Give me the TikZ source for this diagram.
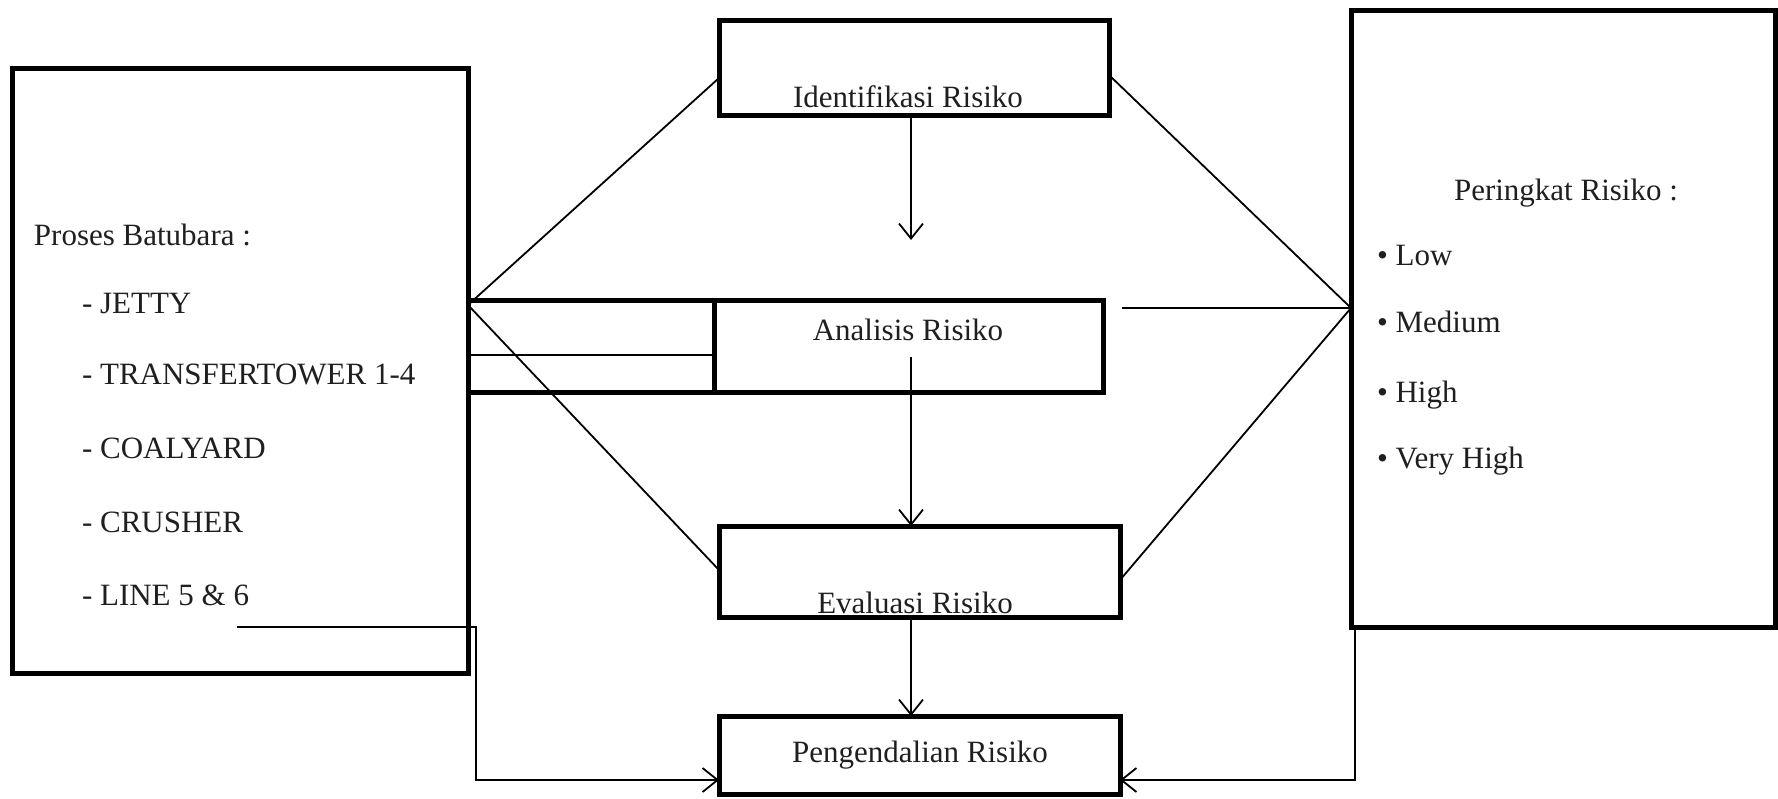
\documentclass[tikz,border=0pt]{standalone}
\usepackage{fontspec}
\setmainfont{Liberation Serif}
\usetikzlibrary{arrows.meta}
\begin{document}
\begin{tikzpicture}[x=1pt,y=-1pt,
  box/.style={draw, line width=5pt, inner sep=0pt, outer sep=0pt},
  conn/.style={line width=1.8pt},
  arr/.style={conn, -{Straight Barb[length=15pt,width=24pt,line width=1.8pt]}},
  lbl/.style={inner sep=0pt, outer sep=0pt, font=\fontsize{31}{36}\selectfont, text=black!88},
]
\useasboundingbox (0,0) rectangle (1778,798);

% boxes
\node[box, minimum width=456pt, minimum height=605pt] (src) at (240,370.5) {};
\node[box, minimum width=246pt, minimum height=92pt] (band) at (591,346) {};
\node[box, minimum width=389pt, minimum height=92pt] (ana) at (908.5,346) {};
\node[box, minimum width=390pt, minimum height=95pt] (idf) at (914,67.5) {};
\node[box, minimum width=401pt, minimum height=91pt] (eva) at (919.5,571.5) {};
\node[box, minimum width=401pt, minimum height=78pt] (peng) at (919.5,755) {};
\node[box, minimum width=424pt, minimum height=617pt] (rank) at (1563,318.5) {};

% named points
\coordinate (cl) at (src.east |- 0,305);
\coordinate (cr) at (rank.west |- 0,308);
\coordinate (anaR) at (1122,308);
\coordinate (idfEnd) at (911,240);
\coordinate (anaStart) at (911,357);
\coordinate (lstart) at (237,627);
\coordinate (lcorner) at (476,627);

% connectors
\draw[conn] (cl) -- (idf.west |- 0,78);
\draw[conn] (cl) -- (eva.west |- 0,570);
\draw[conn] (idf.east |- 0,75) -- (cr);
\draw[conn] (anaR) -- (cr);
\draw[conn] (eva.east |- 0,580) -- (cr);
\draw[conn] (band.west |- 0,355) -- (band.east |- 0,355);

\draw[arr] (911,0 |- idf.south) -- (idfEnd);
\draw[arr] (anaStart) -- (911,0 |- eva.north);
\draw[arr] (911,0 |- eva.south) -- (911,0 |- peng.north);
\draw[arr] (lstart) -- (lcorner) -- (476,780) -- (peng.west |- 0,780);
\draw[arr] (1355,0 |- rank.south) -- (1355,780) -- (peng.east |- 0,780);

% texts
\node[lbl, anchor=base] (tidf) at (908,107) {Identifikasi Risiko};
\node[lbl, anchor=base] (tana) at (908,340) {Analisis Risiko};
\node[lbl, anchor=base] (teva) at (915,613) {Evaluasi Risiko};
\node[lbl, anchor=base] (tpeng) at (920,762) {Pengendalian Risiko};

\node[lbl, anchor=base west] (tsrc) at (34,245) {Proses Batubara :};
\node[lbl, anchor=base west] (s1) at (82,313) {- JETTY};
\node[lbl, anchor=base west] (s2) at (82,384) {- TRANSFERTOWER 1-4};
\node[lbl, anchor=base west] (s3) at (82,458) {- COALYARD};
\node[lbl, anchor=base west] (s4) at (82,532) {- CRUSHER};
\node[lbl, anchor=base west] (s5) at (82,605) {- LINE 5 \& 6};

\node[lbl, anchor=base west] (trank) at (1454,200) {Peringkat Risiko :};
\node[lbl, anchor=base west] (r1) at (1377,265) {• Low};
\node[lbl, anchor=base west] (r2) at (1377,332) {• Medium};
\node[lbl, anchor=base west] (r3) at (1377,402) {• High};
\node[lbl, anchor=base west] (r4) at (1377,468) {• Very High};
\end{tikzpicture}
\end{document}
